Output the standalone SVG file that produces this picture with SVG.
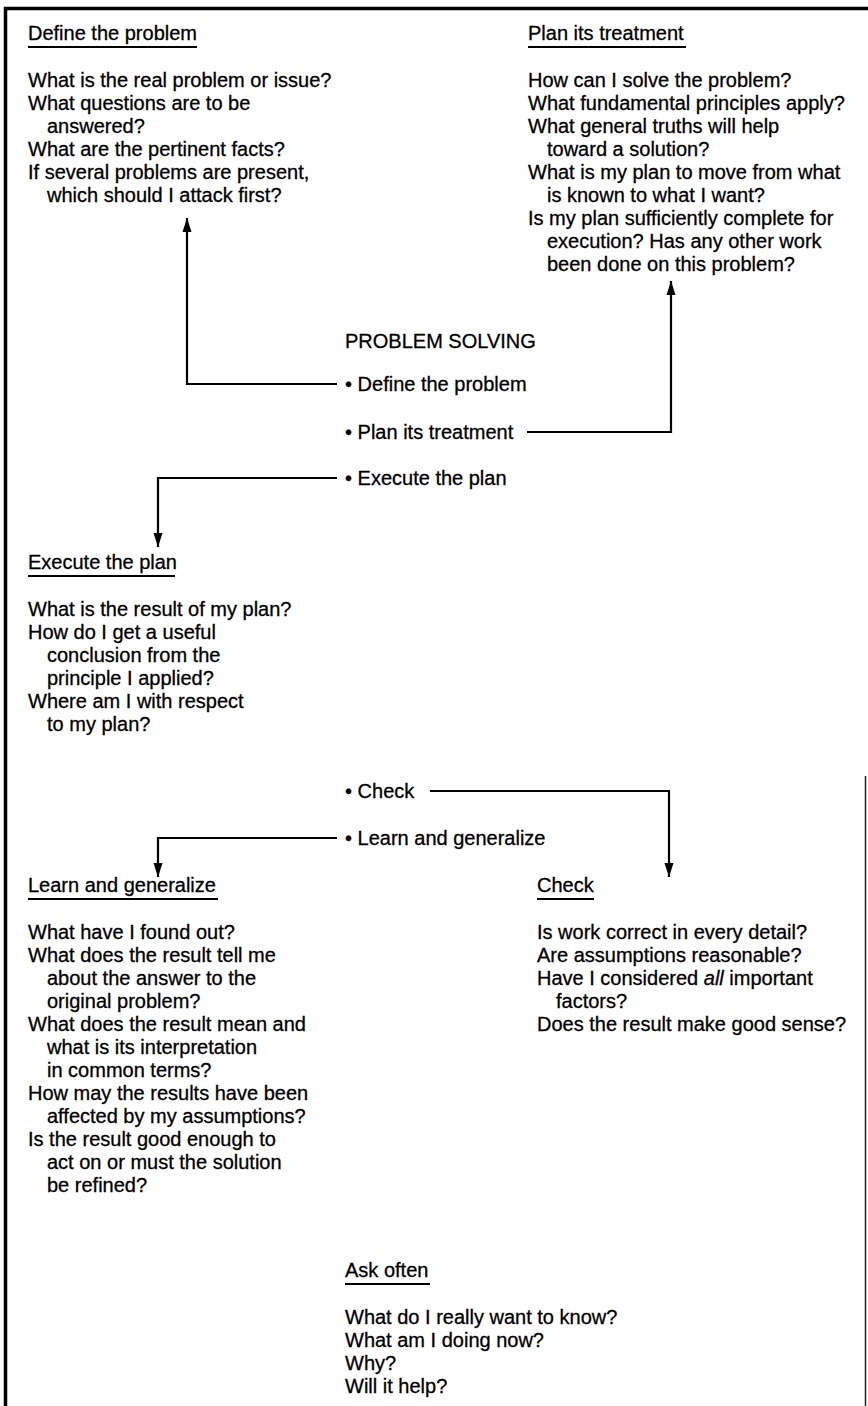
<svg xmlns="http://www.w3.org/2000/svg" width="868" height="1406" viewBox="0 0 868 1406">
<defs>
<style>
text{font-family:"Liberation Sans",Arial,Helvetica,sans-serif;font-size:20px;fill:#000;stroke:#000;stroke-width:0.3}
.ul{stroke:#000;stroke-width:2}
.conn{fill:none;stroke:#000;stroke-width:2.2}
.frame{fill:none;stroke:#000;stroke-width:3.5}
</style>
<marker id="ah" viewBox="0 0 14 10" refX="14" refY="5" markerWidth="14" markerHeight="10" markerUnits="userSpaceOnUse" orient="auto">
<path d="M0,0.5 L14,5 L0,9.5 Z" fill="#000"/>
</marker>
</defs>
<rect width="868" height="1406" fill="#fff"/>
<path class="frame" d="M5.5,1406 V8.5 H868"/>
<line x1="865.5" y1="776" x2="865.5" y2="1406" stroke="#222" stroke-width="1.5"/>

<g id="define">
<text x="28" y="40">Define the problem</text>
<line class="ul" x1="28" y1="47" x2="197" y2="47"/>
<text x="28" y="87">What is the real problem or issue?</text>
<text x="28" y="110">What questions are to be</text>
<text x="47" y="133">answered?</text>
<text x="28" y="156">What are the pertinent facts?</text>
<text x="28" y="179">If several problems are present,</text>
<text x="47" y="202">which should I attack first?</text>
</g>

<g id="plan">
<text x="528" y="40">Plan its treatment</text>
<line class="ul" x1="528" y1="47" x2="686" y2="47"/>
<text x="528" y="87">How can I solve the problem?</text>
<text x="528" y="110">What fundamental principles apply?</text>
<text x="528" y="133">What general truths will help</text>
<text x="547" y="156">toward a solution?</text>
<text x="528" y="179">What is my plan to move from what</text>
<text x="547" y="202">is known to what I want?</text>
<text x="528" y="225">Is my plan sufficiently complete for</text>
<text x="547" y="248">execution? Has any other work</text>
<text x="547" y="271">been done on this problem?</text>
</g>

<g id="center">
<text x="345" y="348">PROBLEM SOLVING</text>
<text x="345" y="391">• Define the problem</text>
<text x="345" y="439">• Plan its treatment</text>
<text x="345" y="485">• Execute the plan</text>
</g>

<g id="execute">
<text x="28" y="569">Execute the plan</text>
<line class="ul" x1="28" y1="576" x2="175" y2="576"/>
<text x="28" y="616">What is the result of my plan?</text>
<text x="28" y="639">How do I get a useful</text>
<text x="47" y="662">conclusion from the</text>
<text x="47" y="685">principle I applied?</text>
<text x="28" y="708">Where am I with respect</text>
<text x="47" y="731">to my plan?</text>
</g>

<g id="center2">
<text x="345" y="798">• Check</text>
<text x="345" y="845">• Learn and generalize</text>
</g>

<g id="learn">
<text x="28" y="892">Learn and generalize</text>
<line class="ul" x1="28" y1="899" x2="218" y2="899"/>
<text x="28" y="939">What have I found out?</text>
<text x="28" y="962">What does the result tell me</text>
<text x="47" y="985">about the answer to the</text>
<text x="47" y="1008">original problem?</text>
<text x="28" y="1031">What does the result mean and</text>
<text x="47" y="1054">what is its interpretation</text>
<text x="47" y="1077">in common terms?</text>
<text x="28" y="1100">How may the results have been</text>
<text x="47" y="1123">affected by my assumptions?</text>
<text x="28" y="1146">Is the result good enough to</text>
<text x="47" y="1169">act on or must the solution</text>
<text x="47" y="1192">be refined?</text>
</g>

<g id="check">
<text x="537" y="892">Check</text>
<line class="ul" x1="537" y1="899" x2="594" y2="899"/>
<text x="537" y="939">Is work correct in every detail?</text>
<text x="537" y="962">Are assumptions reasonable?</text>
<text x="537" y="985">Have I considered <tspan font-style="italic">all</tspan> important</text>
<text x="556" y="1008">factors?</text>
<text x="537" y="1031">Does the result make good sense?</text>
</g>

<g id="ask">
<text x="345" y="1277">Ask often</text>
<line class="ul" x1="345" y1="1284" x2="430" y2="1284"/>
<text x="345" y="1324">What do I really want to know?</text>
<text x="345" y="1347">What am I doing now?</text>
<text x="345" y="1370">Why?</text>
<text x="345" y="1393">Will it help?</text>
</g>

<g id="connectors">
<path class="conn" d="M337,384 H187 V218" marker-end="url(#ah)"/>
<path class="conn" d="M527,432 H671 V281" marker-end="url(#ah)"/>
<path class="conn" d="M337,478 H158 V547" marker-end="url(#ah)"/>
<path class="conn" d="M430,791 H669 V877" marker-end="url(#ah)"/>
<path class="conn" d="M337,838 H158 V877" marker-end="url(#ah)"/>
</g>
</svg>
